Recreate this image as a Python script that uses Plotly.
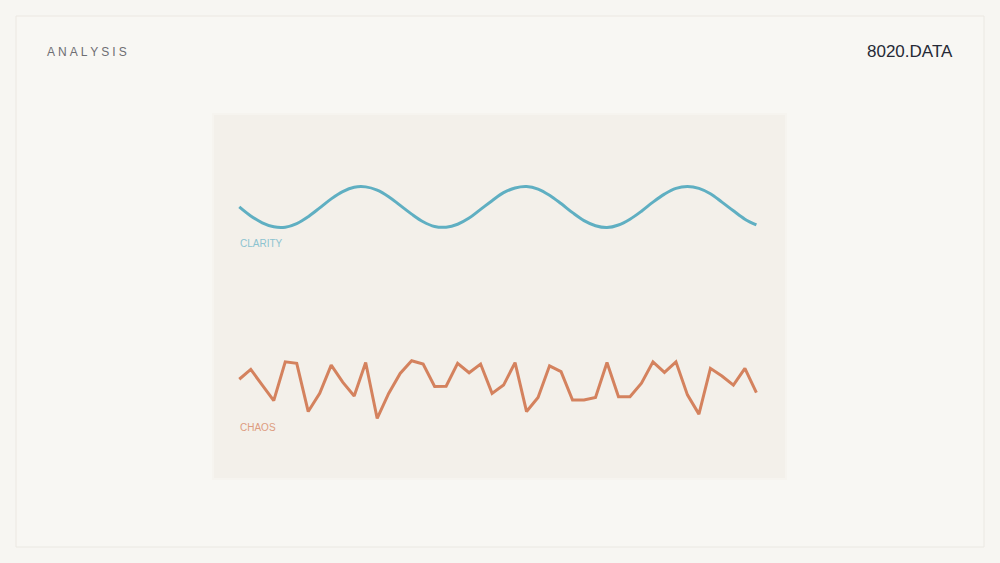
import plotly.graph_objects as go

# ---- data ----
steps = list(range(46))

clarity = [74.7, 72.2, 70.3, 69.2, 69.1, 70.1, 72.0, 74.4, 76.9, 78.9,
           80.1, 80.2, 79.3, 77.5, 75.1, 72.7, 70.6, 69.3, 69.1, 69.9,
           71.6, 74.0, 76.4, 78.6, 79.9, 80.3, 79.6, 77.9, 75.6, 73.1,
           70.9, 69.5, 69.0, 69.7, 71.3, 73.5, 76.0, 78.2, 79.8, 80.3,
           79.8, 78.3, 76.0, 73.6, 71.3, 69.7]

chaos = [27.2, 29.9, 25.6, 21.3, 32.0, 31.6, 18.3, 23.3, 31.1, 26.4,
         22.6, 31.8, 16.4, 23.3, 28.8, 32.3, 31.4, 25.2, 25.3, 31.6,
         29.0, 31.4, 23.3, 25.6, 31.8, 18.3, 22.2, 30.9, 29.3, 21.5,
         21.5, 22.2, 31.8, 22.4, 22.4, 26.1, 32.0, 29.1, 32.0, 22.9,
         17.6, 30.2, 28.1, 25.6, 30.2, 23.5]

series_labels = ["CLARITY", "CHAOS"]
header_left = "\u2005".join("ANALYSIS")
header_right = "8020.DATA"

CLARITY_COLOR = "#5fafc2"
CHAOS_COLOR = "#d4825e"
FONT = "Liberation Sans, Arial, sans-serif"

L, R, T, B = 214, 215, 115, 85
W, H = 1000, 563
pw, ph = W - L - R, H - T - B


def px_x(p):
    return (p - L) / pw


def px_y(p):
    return (H - B - p) / ph


fig = go.Figure()
fig.add_trace(go.Scatter(x=steps, y=clarity, mode="lines", line_shape="spline",
                         line=dict(color=CLARITY_COLOR, width=3), hoverinfo="skip"))
fig.add_trace(go.Scatter(x=steps, y=chaos, mode="lines",
                         line=dict(color=CHAOS_COLOR, width=3, shape="linear"), hoverinfo="skip"))

# series labels
fig.add_annotation(x=-0.07, y=64.7, xref="x", yref="y", text=series_labels[0], showarrow=False,
                   xanchor="left", yanchor="middle",
                   font=dict(family=FONT, size=10, color="#8cc3d0"))
fig.add_annotation(x=-0.07, y=14.0, xref="x", yref="y", text=series_labels[1], showarrow=False,
                   xanchor="left", yanchor="middle",
                   font=dict(family=FONT, size=10, color="#dd9c80"))

# headers
fig.add_annotation(x=px_x(45), y=px_y(52), xref="paper", yref="paper", text=header_left,
                   showarrow=False, xanchor="left", yanchor="middle",
                   font=dict(family=FONT, size=12, color="#6e6e72"))
fig.add_annotation(x=px_x(955), y=px_y(52), xref="paper", yref="paper", text=header_right,
                   showarrow=False, xanchor="right", yanchor="middle",
                   font=dict(family=FONT, size=17, color="#262a36"))

# frame + panel
fig.add_shape(type="rect", xref="paper", yref="paper",
              x0=px_x(16), x1=px_x(984), y0=px_y(547), y1=px_y(16),
              line=dict(color="#ebe8e2", width=1), fillcolor="#f8f7f3", layer="below")
fig.add_shape(type="rect", xref="paper", yref="paper",
              x0=px_x(212), x1=px_x(787), y0=px_y(480), y1=px_y(113),
              line=dict(color="rgba(0,0,0,0)", width=0), fillcolor="#f6f4ef", layer="below")
fig.add_shape(type="rect", xref="paper", yref="paper",
              x0=0, x1=1, y0=0, y1=1,
              line=dict(color="rgba(0,0,0,0)", width=0), fillcolor="#f3f0ea", layer="below")

fig.update_layout(
    width=W, height=H,
    margin=dict(l=L, r=R, t=T, b=B),
    paper_bgcolor="#f7f6f2",
    plot_bgcolor="rgba(0,0,0,0)",
    showlegend=False,
    xaxis=dict(range=[-2.2, 47.49], visible=False, fixedrange=True),
    yaxis=dict(range=[0, 100], visible=False, fixedrange=True),
)

fig.write_html("out.html", config={"displayModeBar": False},
               post_script="document.body.style.margin='0';document.body.style.overflow='hidden';")
